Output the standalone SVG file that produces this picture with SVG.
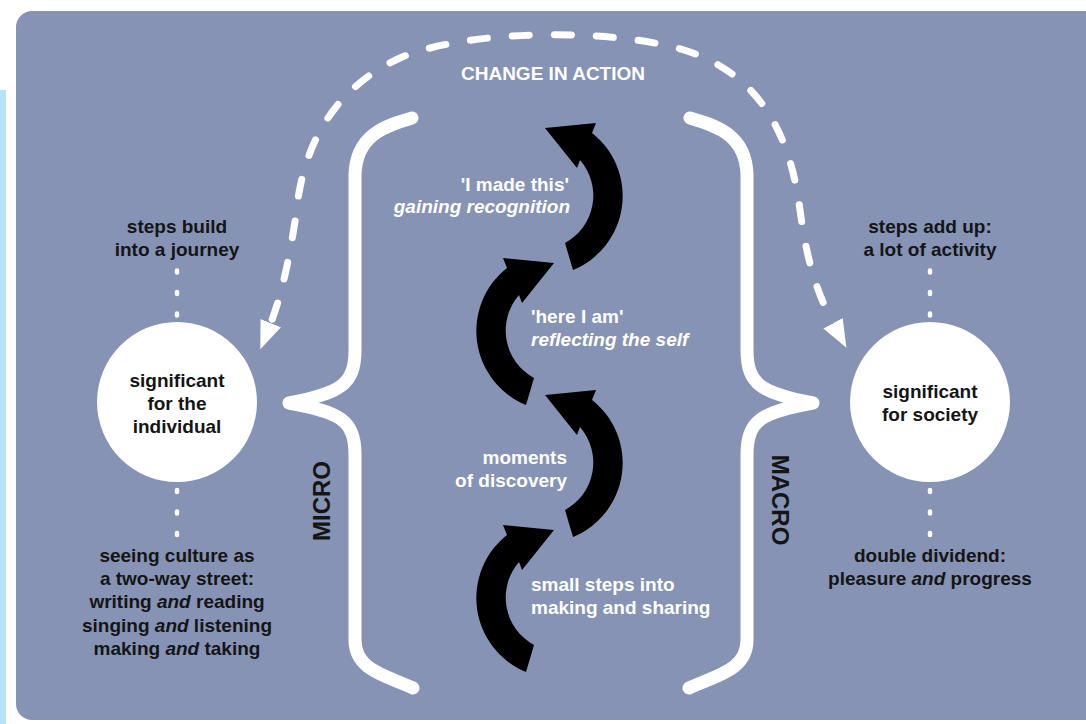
<svg xmlns="http://www.w3.org/2000/svg" width="1086" height="724" viewBox="0 0 1086 724">
<style>
text { font-family: "Liberation Sans", Arial, Helvetica, sans-serif; font-weight: bold; font-size: 19px; }
.dark { fill: #151515; }
.light { fill: #ffffff; }
.mid { text-anchor: middle; }
.end { text-anchor: end; }
.it { font-style: italic; }
.big { font-size: 24px; }
.brace { fill: none; stroke: #ffffff; stroke-width: 13; stroke-linecap: round; stroke-linejoin: round; }
.dash { fill: none; stroke: #ffffff; stroke-width: 7; stroke-linecap: round; stroke-dasharray: 17 25; stroke-dashoffset: 17; }
.dots { fill: none; stroke: #ffffff; stroke-width: 4.5; stroke-linecap: round; stroke-dasharray: 2 19.5; }
.node { fill: #ffffff; }
.curl { fill: #000000; }
</style>
<defs>
<marker id="head" markerUnits="userSpaceOnUse" viewBox="0 0 28 22" refX="2" refY="11" markerWidth="28" markerHeight="22" orient="auto-start-reverse">
<path d="M0,0 L28,11 L0,22 Z" fill="#ffffff"/>
</marker>
<path id="curlShape" d="M545,128 L596,123 L592,133 A80,80 0 0,1 573,270 L565,243 A54,54 0 0,0 580,160 L577,168 Z"/>
<path id="braceShape" d="M412,118 C385,126 356,135 355,175 L355,350 C355,385 340,393 289,403 C340,412 355,420 355,455 L355,640 C355,670 385,675 413,688"/>
</defs>

<g id="background">
<rect x="0" y="90" width="6" height="640" fill="#B5E4F6"/>
<rect x="16" y="11" width="1100" height="709" rx="16" ry="16" fill="#8693B4"/>
</g>

<g id="braces">
<use href="#braceShape" class="brace"/>
<use href="#braceShape" class="brace" transform="translate(1102,0) scale(-1,1)"/>
<text class="dark big mid" transform="translate(330,501) rotate(-90)">MICRO</text>
<text class="dark big mid" transform="translate(772,500) rotate(90)">MACRO</text>
</g>

<g id="connectors">
<path class="dash" marker-start="url(#head)" marker-end="url(#head)" d="M834,325 C815,290 806,255 800,210 C792,150 770,80 690,52 C620,28 470,28 400,58 C330,90 302,150 296,215 C290,255 282,295 270,325"/>
<path class="dots" d="M177,270.5 L177,320"/>
<path class="dots" d="M177,490 L177,536"/>
<path class="dots" d="M930,270.5 L930,320"/>
<path class="dots" d="M930,490 L930,536"/>
</g>

<g id="change-label">
<text class="light mid" x="553" y="80">CHANGE IN ACTION</text>
</g>

<g id="steps">
<use href="#curlShape" class="curl"/>
<use href="#curlShape" class="curl" transform="translate(1099,135) scale(-1,1)"/>
<use href="#curlShape" class="curl" transform="translate(0,267)"/>
<use href="#curlShape" class="curl" transform="translate(1099,402) scale(-1,1)"/>
</g>

<g id="step-made-this">
<text class="light end" x="569" y="191">'I made this'</text>
<text class="light end it" x="570" y="213">gaining recognition</text>
</g>
<g id="step-here-i-am">
<text class="light" x="531" y="323">'here I am'</text>
<text class="light it" x="531" y="346">reflecting the self</text>
</g>
<g id="step-discovery">
<text class="light end" x="567" y="464">moments</text>
<text class="light end" x="567" y="487">of discovery</text>
</g>
<g id="step-small-steps">
<text class="light" x="531" y="591">small steps into</text>
<text class="light" x="531" y="614">making and sharing</text>
</g>

<g id="node-individual">
<circle class="node" cx="177" cy="402" r="80"/>
<text class="dark mid" x="177" y="387">significant</text>
<text class="dark mid" x="177" y="410">for the</text>
<text class="dark mid" x="177" y="433">individual</text>
</g>
<g id="label-journey">
<text class="dark mid" x="177" y="233">steps build</text>
<text class="dark mid" x="177" y="256">into a journey</text>
</g>
<g id="label-two-way">
<text class="dark mid" x="177" y="562">seeing culture as</text>
<text class="dark mid" x="177" y="585">a two-way street:</text>
<text class="dark mid" x="177" y="608">writing <tspan class="it">and</tspan> reading</text>
<text class="dark mid" x="177" y="632">singing <tspan class="it">and</tspan> listening</text>
<text class="dark mid" x="177" y="655">making <tspan class="it">and</tspan> taking</text>
</g>

<g id="node-society">
<circle class="node" cx="930" cy="402" r="80"/>
<text class="dark mid" x="930" y="398">significant</text>
<text class="dark mid" x="930" y="421">for society</text>
</g>
<g id="label-activity">
<text class="dark mid" x="930" y="233">steps add up:</text>
<text class="dark mid" x="930" y="256">a lot of activity</text>
</g>
<g id="label-dividend">
<text class="dark mid" x="930" y="562">double dividend:</text>
<text class="dark mid" x="930" y="585">pleasure <tspan class="it">and</tspan> progress</text>
</g>
</svg>
